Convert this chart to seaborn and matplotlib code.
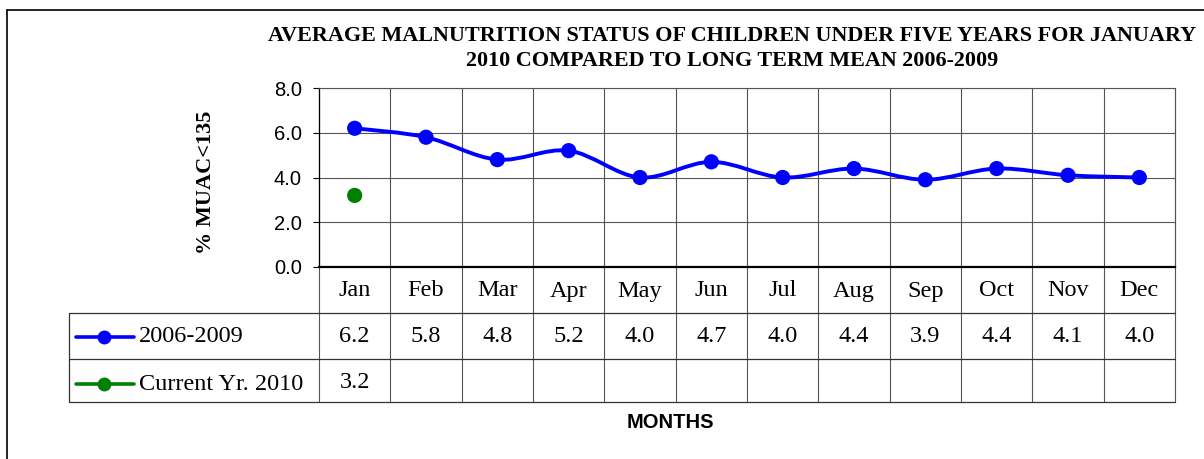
import numpy as np
import pandas as pd
import matplotlib
matplotlib.use("Agg")
import matplotlib.pyplot as plt
import seaborn as sns
from matplotlib.path import Path
from matplotlib.patches import PathPatch
from matplotlib.lines import Line2D

months = ["Jan", "Feb", "Mar", "Apr", "May", "Jun", "Jul", "Aug", "Sep", "Oct", "Nov", "Dec"]
long_term = [6.2, 5.8, 4.8, 5.2, 4.0, 4.7, 4.0, 4.4, 3.9, 4.4, 4.1, 4.0]
current = [3.2]
series_names = ["2006-2009", "Current Yr. 2010"]
series_colors = ["#0000FF", "#008000"]
yticks = [0.0, 2.0, 4.0, 6.0, 8.0]

sns.set_theme(style="white")
plt.rcParams["font.family"] = ["Liberation Sans", "DejaVu Sans"]
plt.rcParams["text.color"] = "black"

fig = plt.figure(figsize=(12.04, 4.59), dpi=100)
W, H = 1204, 459
px0, px1, py0, py1 = 319, 1175, 88, 267
ax = fig.add_axes([px0 / W, 1 - py1 / H, (px1 - px0) / W, (py1 - py0) / H])

df1 = pd.DataFrame({"x": np.arange(len(long_term)), "y": long_term})
df2 = pd.DataFrame({"x": np.arange(len(current)), "y": current})

# smooth line (Catmull-Rom via cubic Bezier) through data
pts = df1[["x", "y"]].to_numpy(dtype=float)
verts = [tuple(pts[0])]
codes = [Path.MOVETO]
n = len(pts)
for i in range(n - 1):
    p0 = pts[i - 1] if i > 0 else pts[i]
    p1 = pts[i]
    p2 = pts[i + 1]
    p3 = pts[i + 2] if i + 2 < n else pts[i + 1]
    c1 = p1 + (p2 - p0) / 6.0
    c2 = p2 - (p3 - p1) / 6.0
    verts += [tuple(c1), tuple(c2), tuple(p2)]
    codes += [Path.CURVE4] * 3
ax.add_patch(PathPatch(Path(verts, codes), facecolor="none", edgecolor=series_colors[0], lw=2.8, zorder=3))

sns.scatterplot(data=df1, x="x", y="y", ax=ax, color=series_colors[0], s=120, edgecolor="none", zorder=4, legend=False)
sns.scatterplot(data=df2, x="x", y="y", ax=ax, color=series_colors[1], s=120, edgecolor="none", zorder=4, legend=False)

ax.set_xlim(-0.5, len(months) - 0.5)
ax.set_ylim(0, 8)
ax.set_yticks(yticks)
ax.set_yticklabels([f"{v:.1f}" for v in yticks], fontsize=14.5, color="black")
ax.set_xticks([])
ax.set_xlabel("")
ax.set_ylabel("")
ax.tick_params(axis="y", which="both", left=True, length=4.5, width=0.8, color="black", pad=8, direction="out")

gcol = "#555555"
for v in yticks[1:]:
    ax.axhline(v, color=gcol, lw=0.8, zorder=1)
for s in ["top", "right"]:
    ax.spines[s].set_color(gcol)
    ax.spines[s].set_linewidth(0.8)
ax.spines["left"].set_color("black")
ax.spines["left"].set_linewidth(0.9)
ax.spines["bottom"].set_color("black")
ax.spines["bottom"].set_linewidth(1.6)

# table in axes coordinates
def fy(py):
    return (py1 - py) / (py1 - py0)

def fx(px):
    return ax.get_xlim()[0] + (px - px0) / (px1 - px0) * len(months)

r_head, r1, r2 = 313, 359, 402
trans = ax.get_xaxis_transform()
ytop, yh, yr1, yr2 = 1.0, fy(r_head), fy(r1), fy(r2)
xleft = fx(69)

for k in range(len(months) + 1):
    xb = k - 0.5
    ax.plot([xb, xb], [yr2, ytop], transform=trans, color=gcol, lw=0.8, clip_on=False, zorder=1)
for yy in [yh, yr1, yr2]:
    ax.plot([xleft, len(months) - 0.5], [yy, yy], transform=trans, color="#333333", lw=0.9, clip_on=False)
ax.plot([xleft, xleft], [yh, yr2], transform=trans, color="#333333", lw=0.9, clip_on=False)

serif = ["Liberation Serif", "DejaVu Serif"]
fs_tab = 17.5
for i, m in enumerate(months):
    ax.text(i, fy(291), m, transform=trans, ha="center", va="center", fontsize=fs_tab, family=serif)
for i, v in enumerate(long_term):
    ax.text(i, fy(337), f"{v:.1f}", transform=trans, ha="center", va="center", fontsize=fs_tab, family=serif)
for i, v in enumerate(current):
    ax.text(i, fy(382), f"{v:.1f}", transform=trans, ha="center", va="center", fontsize=fs_tab, family=serif)

# legend keys inside table
for name, col, pyc in zip(series_names, series_colors, [337, 384]):
    yk = fy(pyc)
    ax.plot([fx(76), fx(134)], [yk, yk], transform=trans, color=col, lw=2.6, clip_on=False)
    ax.plot([fx(104)], [yk], transform=trans, color=col, marker="o", ms=10, mec="none", clip_on=False)
    ax.text(fx(139), yk, name, transform=trans, ha="left", va="center", fontsize=fs_tab, family=serif)

fig.text(732 / W, 1 - 36 / H, "AVERAGE MALNUTRITION STATUS OF CHILDREN UNDER FIVE YEARS FOR JANUARY",
         ha="center", va="center", fontsize=15.9, fontweight="bold", family=serif)
fig.text(732 / W, 1 - 61 / H, "2010 COMPARED TO LONG TERM MEAN 2006-2009",
         ha="center", va="center", fontsize=15.9, fontweight="bold", family=serif)
fig.text(206 / W, 1 - 182 / H, "% MUAC<135", rotation=90, ha="center", va="center",
         fontsize=16, fontweight="bold", family=serif)
fig.text(670 / W, 1 - 423 / H, "MONTHS", ha="center", va="center", fontsize=14.5, fontweight="bold")

# outer chart frame
fig.add_artist(Line2D([7 / W, 7 / W], [0, 1 - 10 / H], color="black", lw=1.2))
fig.add_artist(Line2D([7 / W, 1], [1 - 10 / H, 1 - 10 / H], color="black", lw=1.2))

fig.savefig("out.png", dpi=100)
